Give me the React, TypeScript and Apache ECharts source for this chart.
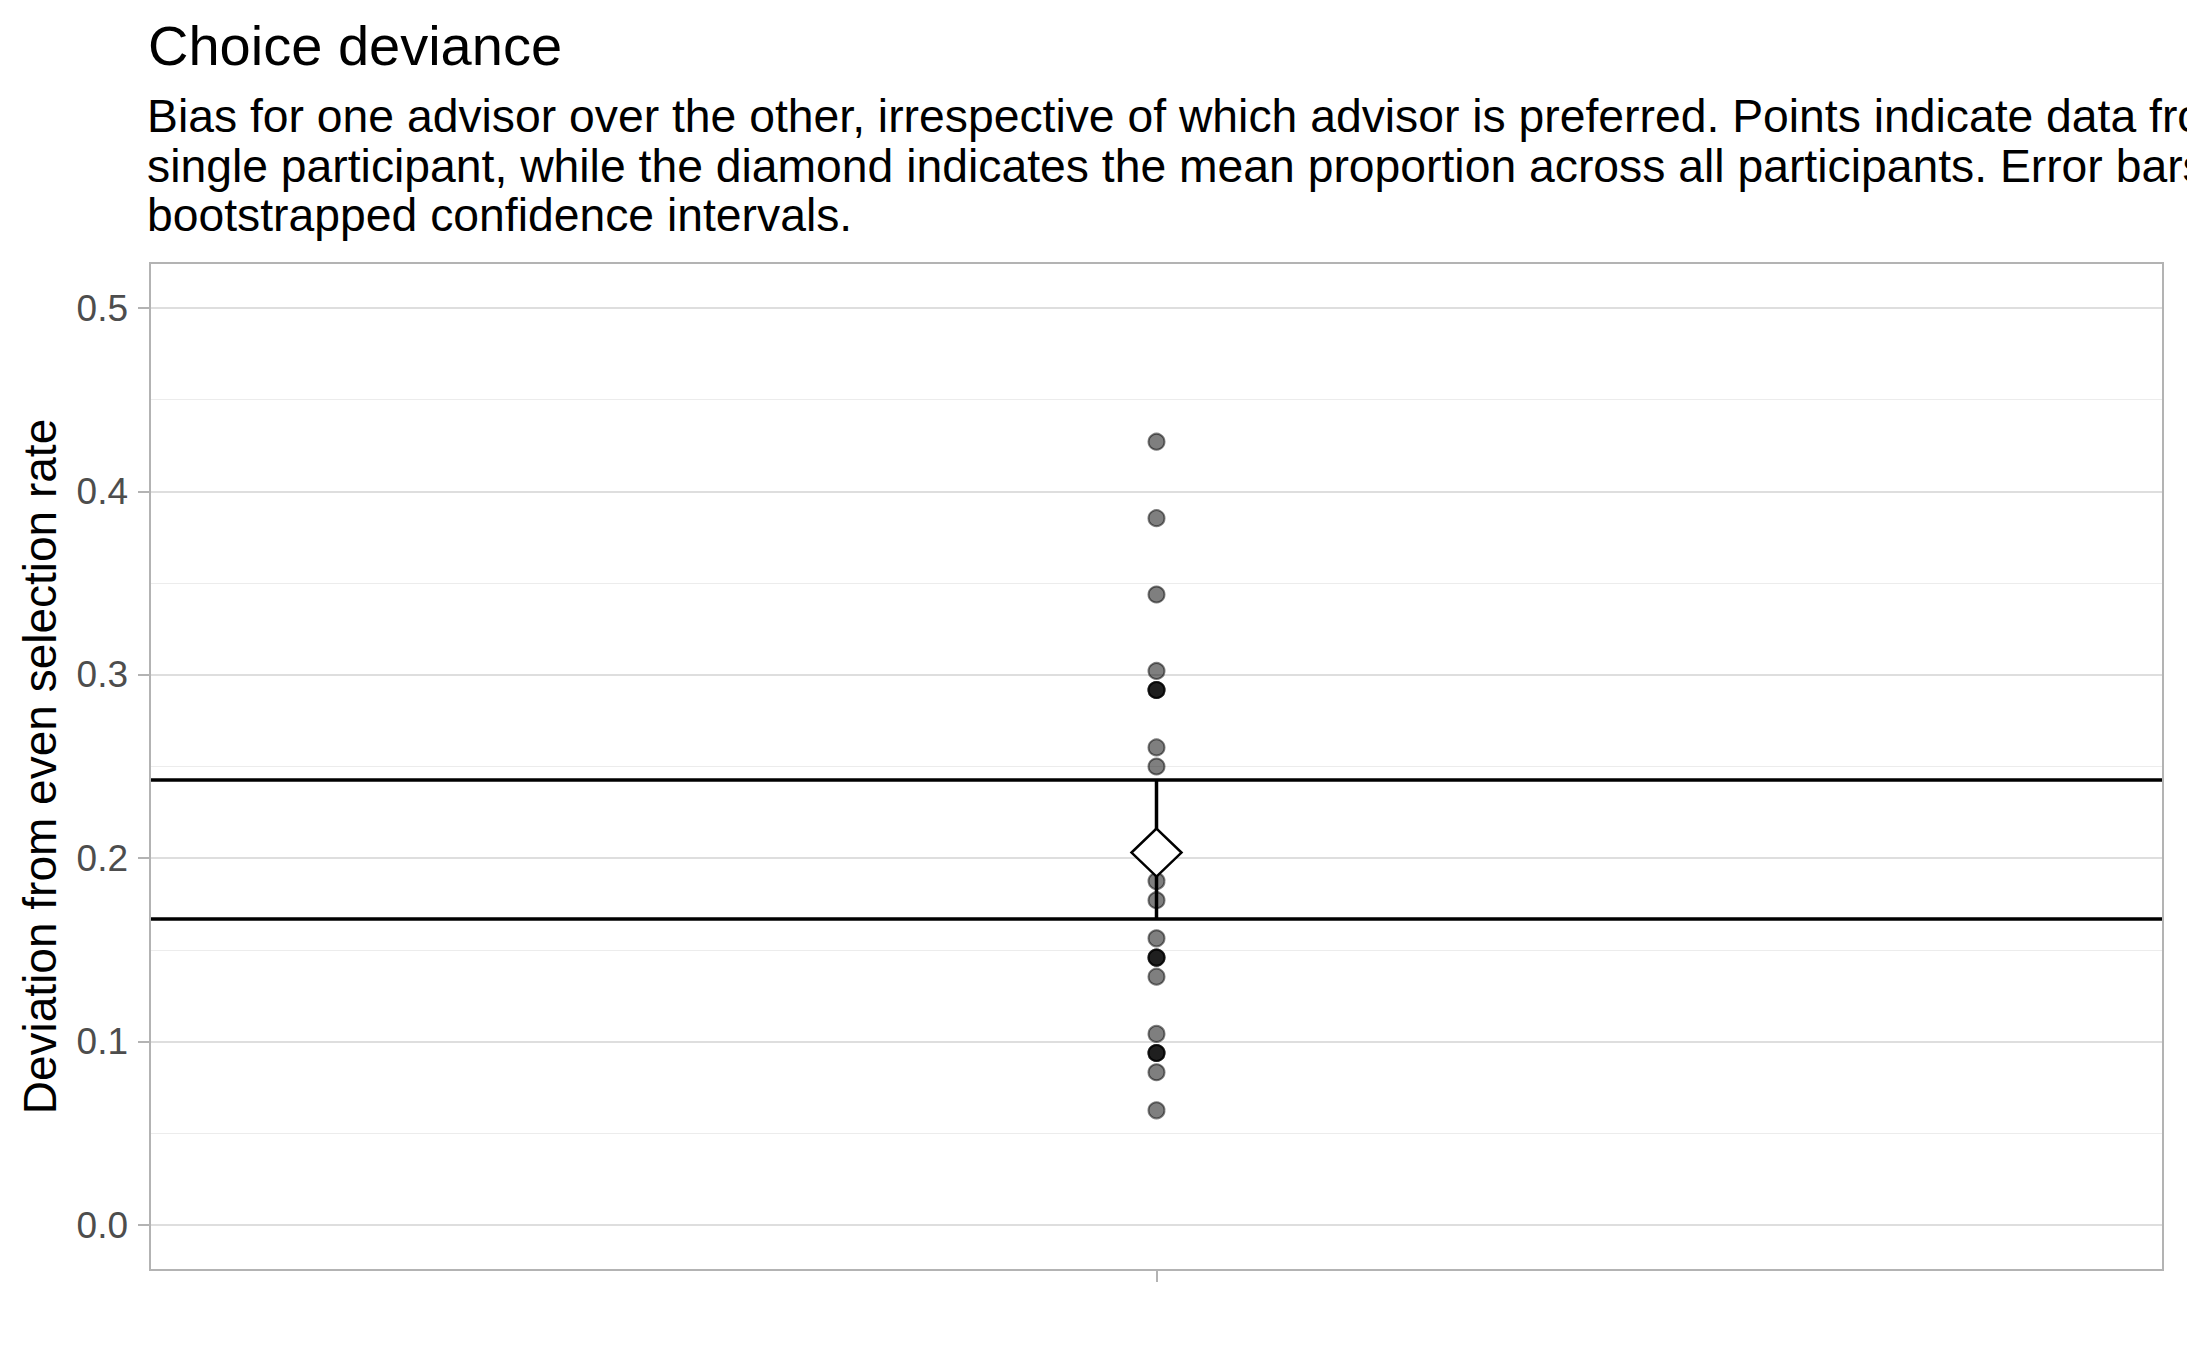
import React, { useEffect, useRef } from "react";
import * as echarts from "echarts";

// ---- data ----
const categories = [""];
const participantValues = [
  0.4271, 0.3854, 0.3438, 0.3021,
  0.2917, 0.2917, 0.2917,
  0.2604, 0.25, 0.1875, 0.1771, 0.1563,
  0.1458, 0.1458, 0.1458,
  0.1354, 0.1042,
  0.0938, 0.0938, 0.0938,
  0.0833, 0.0625,
];
const meanValue = [0.2031];
const ciBounds = [0.1668, 0.2426];
const yTicks = [0, 0.1, 0.2, 0.3, 0.4, 0.5];

const titleText = "Choice deviance";
const subtitleLines = [
  "Bias for one advisor over the other, irrespective of which advisor is preferred. Points indicate data from a",
  "single participant, while the diamond indicates the mean proportion across all participants. Error bars show",
  "bootstrapped confidence intervals.",
];
const yAxisTitle = "Deviation from even selection rate";

const FONT = "'Liberation Sans', Arial, sans-serif";

export default function App() {
  const ref = useRef<HTMLDivElement>(null);

  useEffect(() => {
    if (!ref.current) return;
    const chart = echarts.init(ref.current, undefined, { renderer: "svg" });

    const option: any = {
      animation: false,
      backgroundColor: "#ffffff",
      textStyle: { fontFamily: FONT },
      grid: {
        left: 150,
        right: 24,
        top: 308,
        bottom: 125,
        containLabel: false,
      },
      graphic: [
        {
          type: "text",
          x: 148,
          y: 45,
          style: {
            text: titleText,
            font: `56px ${FONT}`,
            fill: "#000000",
            verticalAlign: "middle",
            align: "left",
          },
        },
        ...subtitleLines.map((t, i) => ({
          type: "text",
          x: 147,
          y: 116 + i * 49.5,
          style: {
            text: t,
            font: `46.3px ${FONT}`,
            fill: "#000000",
            verticalAlign: "middle",
            align: "left",
          },
        })),
        {
          type: "rect",
          shape: { x: 150, y: 263, width: 2013, height: 1007 },
          style: { fill: "none", stroke: "#b3b3b3", lineWidth: 2 },
          z: 100,
          silent: true,
        },
      ],
      xAxis: {
        type: "category",
        data: categories,
        boundaryGap: true,
        offset: 45,
        axisLine: { show: false, onZero: false },
        axisTick: {
          show: true,
          alignWithLabel: true,
          length: 12,
          lineStyle: { color: "#b3b3b3", width: 2 },
        },
        axisLabel: { show: false },
        splitLine: { show: false },
      },
      yAxis: {
        type: "value",
        min: yTicks[0],
        max: yTicks[yTicks.length - 1],
        interval: 0.1,
        name: yAxisTitle,
        nameLocation: "middle",
        nameRotate: 90,
        nameGap: 87,
        nameTextStyle: { fontSize: 46, color: "#000000", fontFamily: FONT },
        axisLine: { show: false },
        axisTick: {
          show: true,
          length: 12,
          lineStyle: { color: "#b3b3b3", width: 2 },
        },
        axisLabel: {
          show: true,
          margin: 22,
          fontSize: 37,
          color: "#4d4d4d",
          fontFamily: FONT,
          formatter: (v: number) => v.toFixed(1),
        },
        splitLine: { show: true, lineStyle: { color: "#dedede", width: 2 } },
        minorTick: { show: false, splitNumber: 2 },
        minorSplitLine: { show: true, lineStyle: { color: "#ececec", width: 1.2 } },
      },
      series: [
        {
          type: "scatter",
          z: 2,
          symbol: "circle",
          symbolSize: 16,
          itemStyle: {
            color: "rgba(0,0,0,0.5)",
            borderColor: "rgba(0,0,0,0.5)",
            borderWidth: 2,
            opacity: 1,
          },
          emphasis: { disabled: true },
          data: participantValues.map((v) => [0, v]),
        },
        {
          // horizontal reference lines at the CI bounds, spanning the panel
          type: "custom",
          z: 3,
          silent: true,
          data: ciBounds.map((v) => [0, v]),
          renderItem: (params: any, api: any) => {
            const cs = params.coordSys;
            const y = api.coord([0, api.value(1)])[1];
            return {
              type: "line",
              shape: { x1: cs.x, y1: y, x2: cs.x + cs.width, y2: y },
              style: { stroke: "#000000", lineWidth: 3.5 },
            };
          },
        },
        {
          // vertical error bar
          type: "custom",
          z: 3,
          silent: true,
          data: [[0, ciBounds[0], ciBounds[1]]],
          renderItem: (params: any, api: any) => {
            const lo = api.coord([api.value(0), api.value(1)]);
            const hi = api.coord([api.value(0), api.value(2)]);
            return {
              type: "line",
              shape: { x1: lo[0], y1: lo[1], x2: hi[0], y2: hi[1] },
              style: { stroke: "#000000", lineWidth: 3.5 },
            };
          },
        },
        {
          type: "scatter",
          z: 4,
          symbol: "diamond",
          symbolSize: [50, 48],
          itemStyle: {
            color: "#ffffff",
            borderColor: "#000000",
            borderWidth: 2.5,
            opacity: 1,
          },
          emphasis: { disabled: true },
          data: meanValue.map((v) => [0, v]),
        },
      ],
    };

    chart.setOption(option);
    return () => chart.dispose();
  }, []);

  return (
    <div
      ref={ref}
      style={{ position: "fixed", left: 0, top: 0, width: 2187, height: 1350, background: "#ffffff" }}
    />
  );
}
